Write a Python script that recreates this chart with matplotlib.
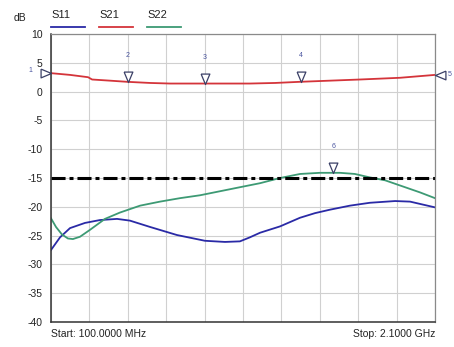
import numpy as np
import matplotlib
matplotlib.use("Agg")
from matplotlib import pyplot as plt
from matplotlib.lines import Line2D

plt.rcParams['font.family'] = ['Liberation Sans', 'DejaVu Sans']
plt.rcParams['axes.unicode_minus'] = False

# frequency in MHz, level in dB
s11_f = [100, 147, 199, 277, 355, 444, 511, 616, 756, 902, 1006, 1084, 1136, 1189, 1293, 1397, 1475, 1553, 1657, 1761, 1892, 1970, 2100]
s11_db = [-27.5, -25.3, -23.7, -22.8, -22.3, -22.1, -22.4, -23.5, -24.9, -25.9, -26.1, -26.0, -25.3, -24.5, -23.4, -21.9, -21.1, -20.5, -19.8, -19.3, -19.0, -19.1, -20.1]

s21_f = [100, 199, 293, 314, 407, 496, 616, 720, 902, 1136, 1267, 1397, 1553, 1709, 1918, 2100]
s21_db = [3.2, 2.9, 2.5, 2.1, 1.9, 1.7, 1.5, 1.4, 1.4, 1.4, 1.5, 1.7, 1.9, 2.1, 2.4, 2.9]

s22_f = [100, 126, 157, 188, 214, 251, 303, 381, 459, 564, 668, 772, 876, 980, 1084, 1189, 1293, 1397, 1501, 1605, 1683, 1761, 1840, 1918, 2022, 2100]
s22_db = [-22.0, -23.5, -24.8, -25.5, -25.6, -25.2, -24.0, -22.1, -21.0, -19.8, -19.1, -18.5, -18.0, -17.3, -16.6, -15.9, -15.0, -14.3, -14.1, -14.1, -14.3, -14.9, -15.4, -16.3, -17.5, -18.5]

limit_db = -15

# markers: number, frequency, trace
mk_num = [1, 2, 3, 4, 5, 6]
mk_freq = [100, 500, 900, 1400, 2100, 1570]
mk_trace = ['S21', 'S21', 'S21', 'S21', 'S21', 'S22']

c11 = '#2a2aa6'
c21 = '#d4343a'
c22 = '#3d9a74'
mk_col = '#3a3f66'
lbl_col = '#4a55a0'

fig = plt.figure(figsize=(4.54, 3.47), dpi=100)
ax = fig.add_axes([51 / 454, 1 - 322 / 347, 384 / 454, 288 / 347])

ax.plot(s11_f, s11_db, color=c11, lw=1.3)
ax.plot(s21_f, s21_db, color=c21, lw=1.3)
ax.plot(s22_f, s22_db, color=c22, lw=1.3)
ax.axhline(limit_db, color='black', lw=2.2, dashes=(4.6, 1.3, 1.3, 1.3))

ax.set_xlim(100, 2100)
ax.set_ylim(-40, 10)
ax.set_xticks(np.arange(100, 2101, 200))
ax.set_yticks(np.arange(-40, 11, 5))
ax.set_xticklabels([])
ax.tick_params(length=0, labelsize=7.5, pad=6, colors='#222222')
ax.grid(True, color='#d0d0d0', lw=0.8)
ax.set_axisbelow(True)
for s in ['top', 'right']:
    ax.spines[s].set_color('#8a8a8a')
    ax.spines[s].set_linewidth(0.9)
for s in ['left', 'bottom']:
    ax.spines[s].set_color('#333333')
    ax.spines[s].set_linewidth(1.1)

traces = {'S11': (s11_f, s11_db), 'S21': (s21_f, s21_db), 'S22': (s22_f, s22_db)}
down = [(-0.42, 1), (0.42, 1), (0, 0), (-0.42, 1)]
right = [(-1, 0.42), (-1, -0.42), (0, 0), (-1, 0.42)]
left = [(1, 0.42), (1, -0.42), (0, 0), (1, 0.42)]
for n, f, tr in zip(mk_num, mk_freq, mk_trace):
    y = np.interp(f, *traces[tr])
    ha = 'center'
    if f <= 100:
        shape, dx, dy = right, -15, 2
    elif f >= 2100:
        shape, dx, dy, ha = left, 9, 0, 'left'
    else:
        shape, dx, dy = down, 0, 19
    ax.plot([f], [y], marker=shape, ms=15, mfc='white', mec=mk_col, mew=0.9,
            clip_on=False, zorder=5)
    ax.annotate(str(n), (f, y), xytext=(dx, dy), textcoords='offset points',
                ha=ha, va='center', fontsize=5, color=lbl_col,
                annotation_clip=False)

# legend across the top
fig.text(14 / 454, 1 - 18 / 347, 'dB', fontsize=7.5, color='#222222', va='center')
for i, (name, col) in enumerate([('S11', c11), ('S21', c21), ('S22', c22)]):
    x0 = (51 + i * 48) / 454
    fig.text(x0, 1 - 15 / 347, name, fontsize=8, color='#222222', va='center')
    fig.add_artist(Line2D([x0, x0 + 34 / 454], [1 - 27 / 347] * 2, color=col, lw=1.3))

fig.text(51 / 454, 1 - 334 / 347, 'Start: 100.0000 MHz', fontsize=7.5, color='#222222', va='center')
fig.text(435 / 454, 1 - 334 / 347, 'Stop: 2.1000 GHz', fontsize=7.5, color='#222222', va='center', ha='right')

fig.savefig('out.png', dpi=100, facecolor='white')
